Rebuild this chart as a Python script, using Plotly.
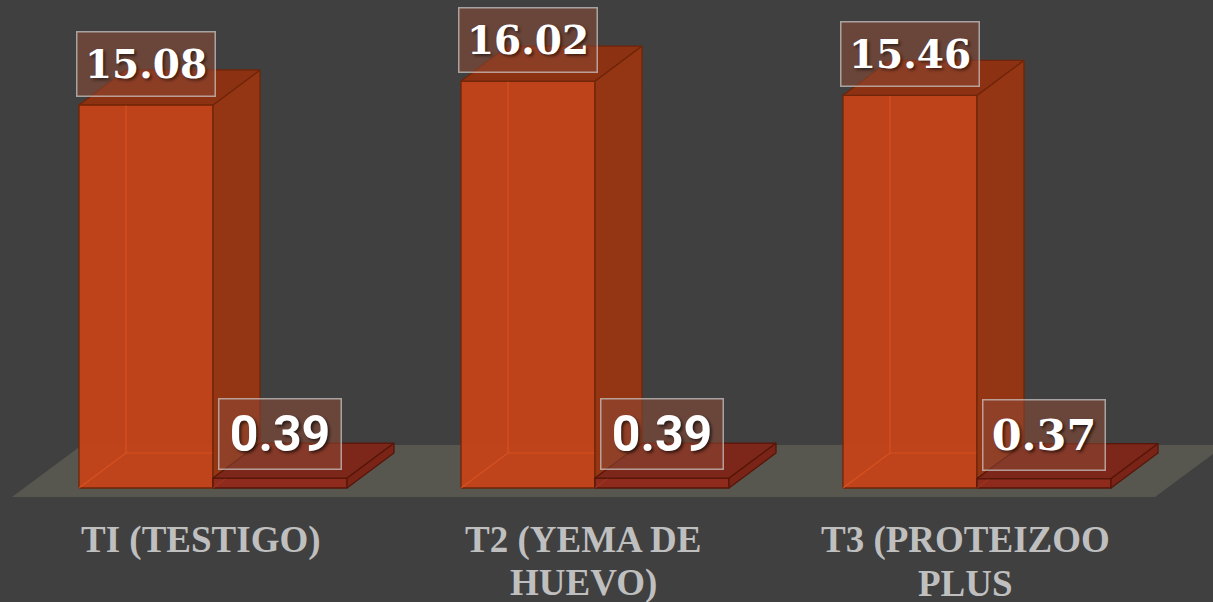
import plotly.graph_objects as go

# ---- data ----
categories = [["TI (TESTIGO)"], ["T2 (YEMA DE", "HUEVO)"], ["T3 (PROTEIZOO", "PLUS"]]
series_a = [15.08, 16.02, 15.46]   # tall bars
series_b = [0.39, 0.39, 0.37]      # short bars
labels_a = ["15.08", "16.02", "15.46"]
labels_b = ["0.39", "0.39", "0.37"]

# ---- geometry (axis units) ----
W = 134 / 382          # bar width in category units
DX = 47 / 382          # depth offset x
DY = 35 / 25.4         # depth offset y (value units)
XR = [-213 / 382, 1000 / 382]
YR = [(488 - 602) / 25.4, 488 / 25.4]

BG = "#404040"
SLAB = "DejaVu Serif"
style_a = dict(front="rgba(196,68,26,0.96)", side="#943614", top="#8c3212",
               edge="#6f2509", inner="rgba(222,86,34,0.75)")
style_b = dict(front="#8f2b1c", side="#7a2418", top="#7d261a",
               edge="#561608", inner="rgba(160,55,35,0.7)")

fig = go.Figure()


def poly(xs, ys, fill, edge, width=1.3):
    fig.add_trace(go.Scatter(x=xs + [xs[0]], y=ys + [ys[0]], mode="lines", fill="toself",
                             fillcolor=fill, line=dict(color=edge, width=width),
                             hoverinfo="skip", showlegend=False))


def box(x0, x1, h, st):
    poly([x0, x1, x1, x0], [0, 0, h, h], st["front"], st["edge"])
    fig.add_trace(go.Scatter(x=[x0, x0 + DX, x0 + DX, None, x0 + DX, x1],
                             y=[0, DY, h + DY, None, DY, DY], mode="lines",
                             line=dict(color=st["inner"], width=1.2),
                             hoverinfo="skip", showlegend=False))
    poly([x1, x1 + DX, x1 + DX, x1], [0, DY, h + DY, h], st["side"], st["edge"])
    poly([x0, x0 + DX, x1 + DX, x1], [h, h + DY, h + DY, h], st["top"], st["edge"])


for i in range(len(series_a)):
    box(i - W, i, series_a[i], style_a)
    box(i, i + W, series_b[i], style_b)

annotations = []
for i in range(len(series_a)):
    annotations.append(dict(
        x=i - W / 2, y=series_a[i], xref="x", yref="y", yanchor="bottom", yshift=8,
        text=labels_a[i], showarrow=False, width=137, height=63, borderpad=0,
        bgcolor="rgba(140,72,52,0.55)", bordercolor="rgba(205,205,205,0.7)", borderwidth=1.5,
        font=dict(family=SLAB, size=39, color="white",
                  weight="bold", shadow="2px 2px 3px rgba(0,0,0,0.5)")))
    sans = labels_b[i] == "0.39"
    annotations.append(dict(
        x=i + W / 2, y=series_b[i], xref="x", yref="y", yanchor="bottom", yshift=8,
        text=labels_b[i], showarrow=False, width=121, height=69, borderpad=0,
        bgcolor="rgba(140,72,52,0.55)", bordercolor="rgba(205,205,205,0.7)", borderwidth=1.5,
        font=dict(family="Roboto" if sans else SLAB,
                  size=50 if sans else 43, color="white", weight="bold",
                  shadow="2px 2px 3px rgba(0,0,0,0.6)")))
    for j, line in enumerate(categories[i]):
        annotations.append(dict(
            x=i, y=-(540 - 488 + 43 * j) / 25.4, xref="x", yref="y", xshift=-12,
            yanchor="middle", text=line, showarrow=False,
            font=dict(family="Liberation Serif", size=37, color="#bfbfbf", weight="bold")))

# floor (3D base plane)
f_front, f_back = -9 / 25.4, 43 / 25.4
f_l, f_r = (12 - 213) / 382, (1155 - 213) / 382
f_dx = 70 / 382
floor_path = (f"M {f_l},{f_front} L {f_r},{f_front} L {f_r + f_dx},{f_back} "
              f"L {f_l + f_dx},{f_back} Z")

fig.update_layout(
    width=1213, height=602, margin=dict(l=0, r=0, t=0, b=0),
    paper_bgcolor=BG, plot_bgcolor=BG, showlegend=False,
    xaxis=dict(range=XR, visible=False, fixedrange=True),
    yaxis=dict(range=YR, visible=False, fixedrange=True),
    shapes=[dict(type="path", path=floor_path, xref="x", yref="y", layer="below",
                 fillcolor="#57564f", line=dict(width=0))],
    annotations=annotations,
)

fig.write_html("out.html", config={"displayModeBar": False},
               post_script="document.body.style.margin='0';document.body.style.background='#404040';")
